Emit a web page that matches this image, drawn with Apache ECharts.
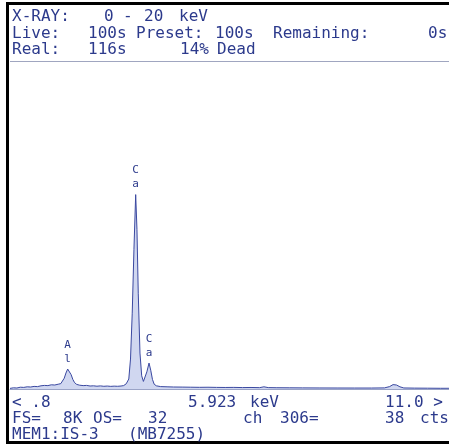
<!DOCTYPE html>
<html>
<head>
<meta charset="utf-8">
<script src="https://cdn.jsdelivr.net/npm/echarts@6/dist/echarts.min.js"></script>
<style>
  html, body { margin: 0; padding: 0; background: #fff; }
  #main { width: 449px; height: 445px; }
</style>
</head>
<body>
<div id="main"></div>
<script>
// spectrum, keV vs counts
var energy = [0.80, 0.88, 0.96, 1.04, 1.12, 1.20, 1.28, 1.36, 1.44, 1.52,
  1.60, 1.68, 1.76, 1.84, 1.92, 1.98, 2.02, 2.06, 2.10, 2.14,
  2.18, 2.22, 2.26, 2.30, 2.35, 2.42, 2.50, 2.58, 2.66, 2.74,
  2.82, 2.90, 2.98, 3.06, 3.14, 3.22, 3.30, 3.38, 3.44, 3.50,
  3.56, 3.60, 3.64, 3.68, 3.72, 3.75, 3.78, 3.82, 3.86, 3.90,
  3.94, 3.98, 4.03, 4.07, 4.11, 4.15, 4.20, 4.30, 4.45, 4.60,
  4.80, 5.00, 5.20, 5.40, 5.60, 5.80, 6.00, 6.20, 6.40, 6.60,
  6.70, 6.80, 7.00, 7.30, 7.60, 8.00, 8.40, 8.80, 9.20, 9.50,
  9.62, 9.70, 9.78, 9.86, 9.95, 10.20, 10.50, 10.80, 11.00];
var counts = [15, 30, 25, 45, 40, 55, 50, 65, 60, 80,
  90, 85, 105, 100, 120, 135, 180, 270, 400, 500,
  470, 360, 240, 160, 115, 95, 85, 90, 75, 80,
  70, 78, 68, 74, 66, 72, 68, 75, 85, 130,
  250, 750, 1900, 3500, 4870, 4000, 2400, 900, 330, 190,
  240, 430, 650, 470, 240, 120, 80, 60, 55, 50,
  48, 45, 42, 44, 40, 38, 40, 36, 38, 34,
  55, 35, 32, 30, 28, 26, 25, 24, 24, 28,
  60, 110, 100, 55, 26, 22, 20, 18, 18];

// peak tags
var peakKeV = [2.14, 3.72, 4.03];
var peakCounts = [500, 4870, 650];
var peakTags = ['A\nl', 'C\na', 'C\na'];

var fullScale = 8192;
var txt = '#2c3a8c';
var mono = 'DejaVu Sans Mono';

var chart = echarts.init(document.getElementById('main'));

function t(x, y, s) {
  return {
    type: 'text', left: x, top: y - 8,
    style: { text: s, fill: txt, font: '16px "' + mono + '"' }
  };
}

var option = {
  animation: false,
  backgroundColor: '#fff',
  grid: { left: 10, right: 0, top: 62, bottom: 56 },
  xAxis: {
    type: 'value', min: 0.8, max: 11.0,
    axisLine: { show: true, lineStyle: { color: '#9aa3c6', width: 1 } },
    axisTick: { show: false }, axisLabel: { show: false }, splitLine: { show: false }
  },
  yAxis: {
    type: 'value', min: 0, max: fullScale,
    show: false, splitLine: { show: false }
  },
  series: [{
    type: 'line',
    data: energy.map(function (e, i) { return [e, counts[i]]; }),
    symbol: 'none',
    lineStyle: { color: '#3a48a0', width: 1 },
    areaStyle: { color: '#bcc6ea' },
    markPoint: {
      symbol: 'circle', symbolSize: 0,
      label: {
        show: true, position: 'top', distance: 3,
        formatter: '{b}', color: txt, fontSize: 11, lineHeight: 14,
        fontFamily: mono
      },
      data: peakKeV.map(function (e, i) {
        return { name: peakTags[i], coord: [e, peakCounts[i]] };
      })
    }
  }],
  graphic: [
    // frame
    { type: 'rect', shape: { x: 6, y: 2, width: 443, height: 3 }, style: { fill: '#000' } },
    { type: 'rect', shape: { x: 6, y: 2, width: 3, height: 442 }, style: { fill: '#000' } },
    { type: 'rect', shape: { x: 6, y: 441, width: 443, height: 3 }, style: { fill: '#000' } },
    { type: 'line', shape: { x1: 10, y1: 61.5, x2: 449, y2: 61.5 }, style: { stroke: '#a0a6c0', lineWidth: 1 } },
    // header
    t(12, 17, 'X-RAY:'), t(104, 17, '0'), t(123, 17, '-'), t(144, 17, '20'), t(179, 17, 'keV'),
    t(12, 34, 'Live:'), t(88, 34, '100s'), t(136, 34, 'Preset:'), t(215, 34, '100s'),
    t(273, 34, 'Remaining:'), t(428, 34, '0s'),
    t(12, 50, 'Real:'), t(88, 50, '116s'), t(180, 50, '14%'), t(217, 50, 'Dead'),
    // footer
    t(12, 403, '< .8'), t(188, 403, '5.923'), t(250, 403, 'keV'), t(385, 403, '11.0 >'),
    t(12, 419, 'FS='), t(63, 419, '8K'), t(93, 419, 'OS='), t(148, 419, '32'),
    t(243, 419, 'ch'), t(280, 419, '306='), t(385, 419, '38'), t(420, 419, 'cts'),
    t(12, 435, 'MEM1:IS-3'), t(128, 435, '(MB7255)')
  ]
};

chart.setOption(option);
</script>
</body>
</html>
